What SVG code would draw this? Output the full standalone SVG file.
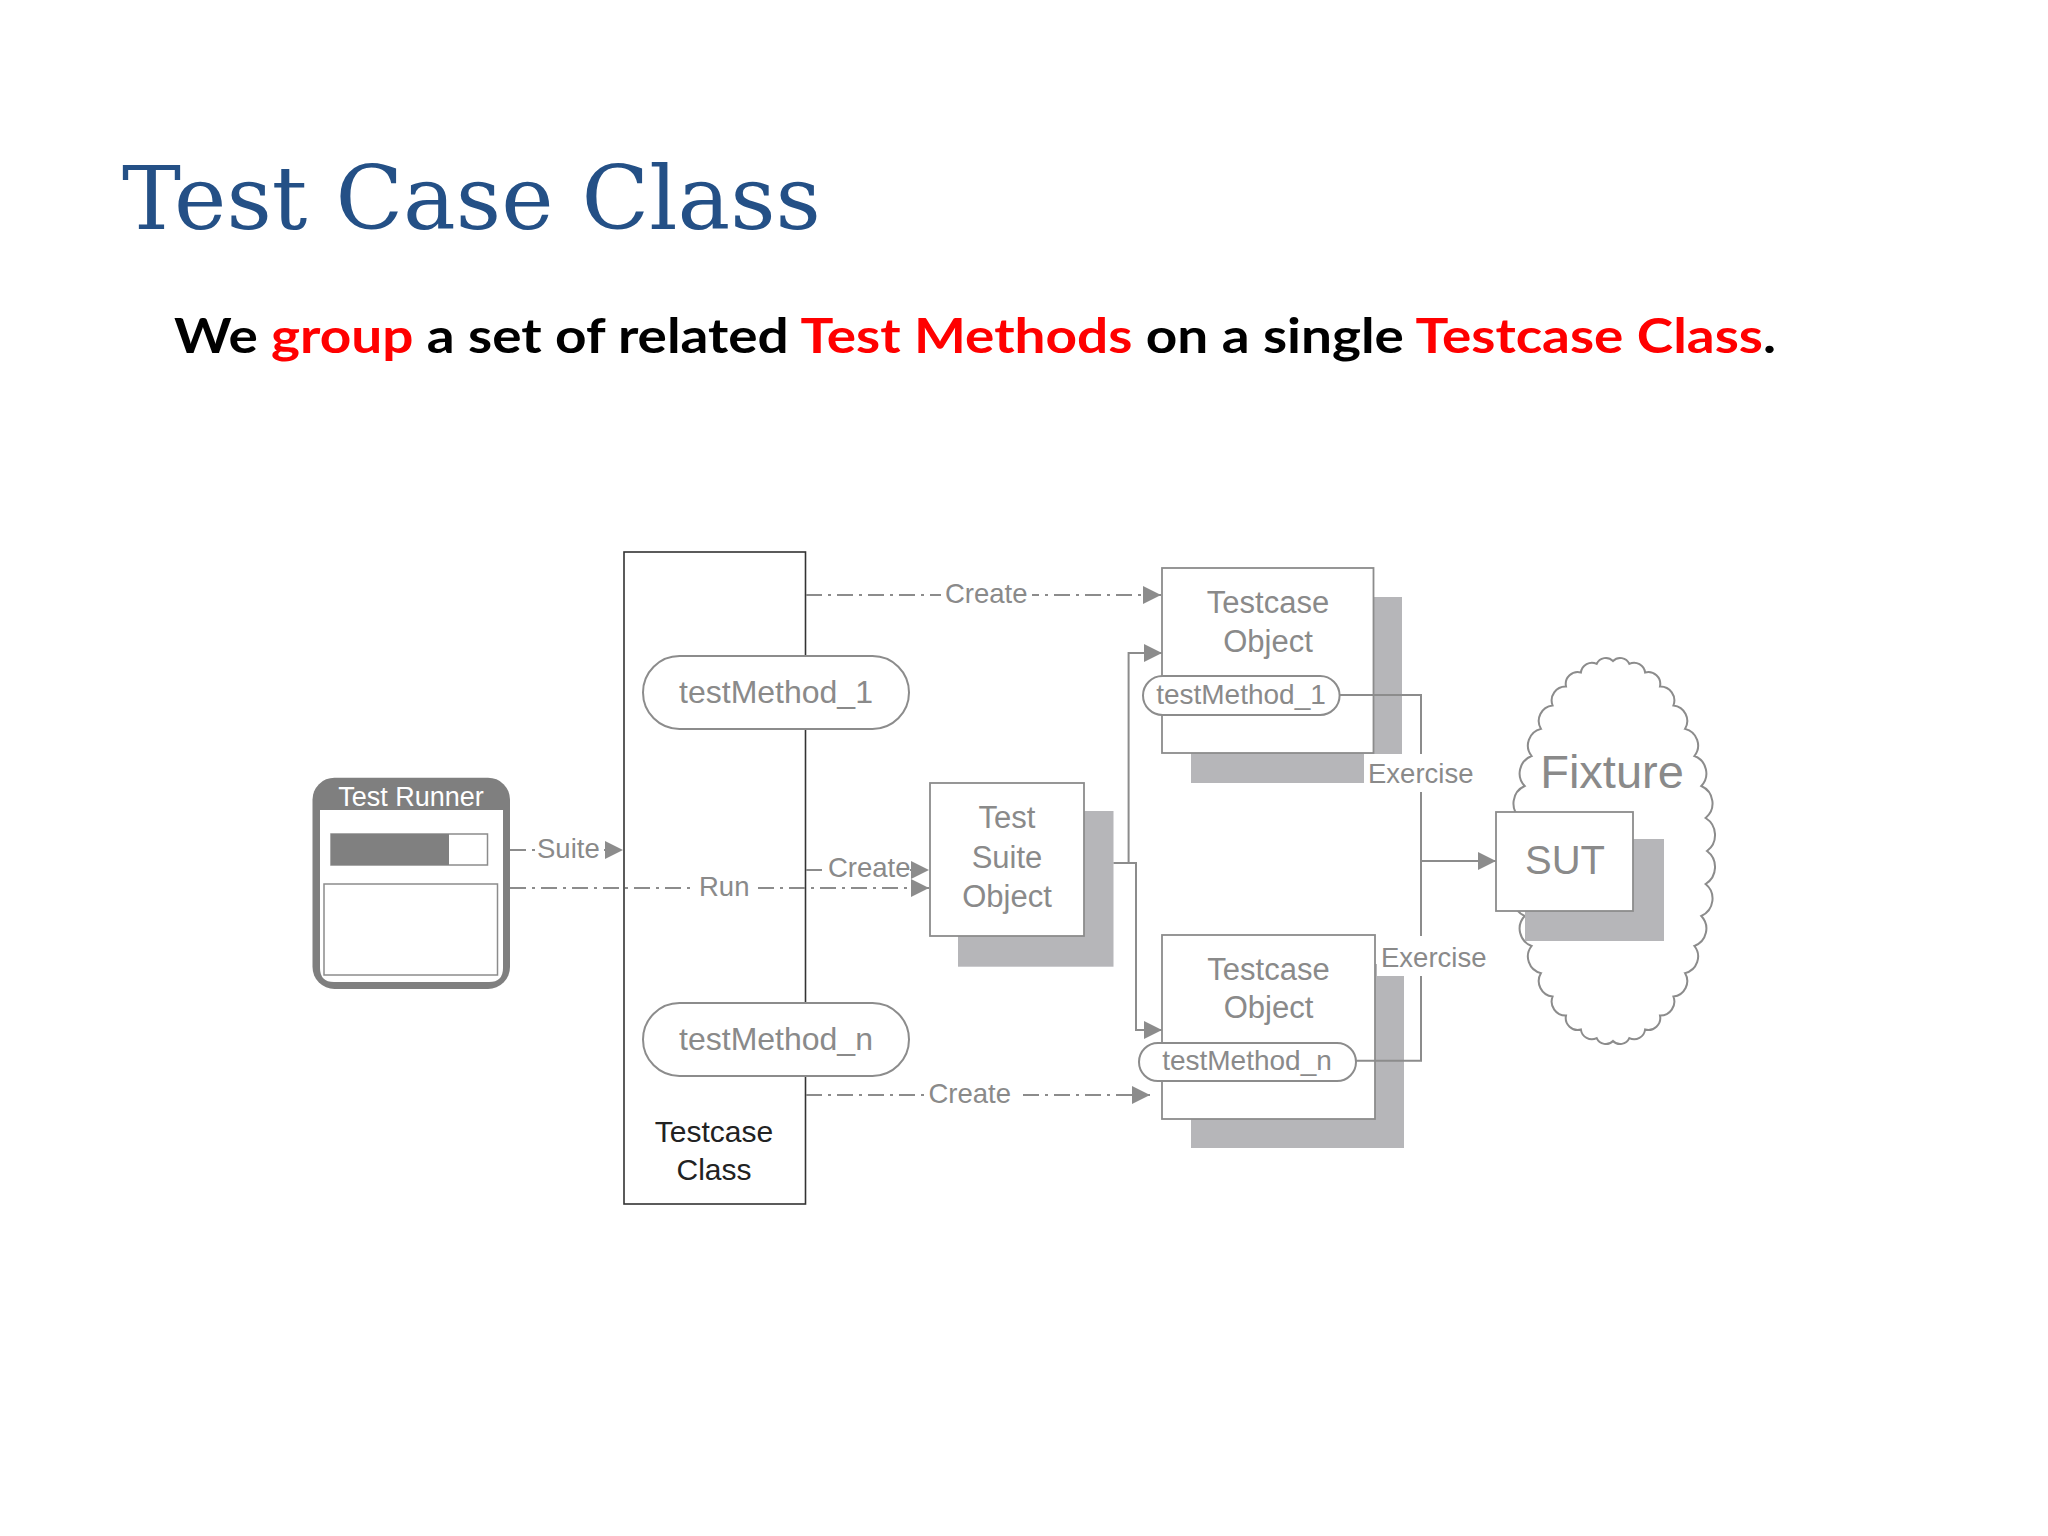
<svg xmlns="http://www.w3.org/2000/svg" width="2048" height="1536" viewBox="0 0 2048 1536">
<style>
.lbl{font-family:"Liberation Sans",Arial,sans-serif;fill:#8a8a8a;font-size:27.5px}
.node{font-family:"Liberation Sans",Arial,sans-serif;fill:#8a8a8a;text-anchor:middle}
.box{fill:#fff;stroke:#8c8c8c;stroke-width:1.8}
.shadow{fill:#b6b6b9}
.pill{fill:#fff;stroke:#8c8c8c;stroke-width:2}
.dash{fill:none;stroke:#8c8c8c;stroke-width:1.8;stroke-dasharray:16 6 3 6}
.solid{fill:none;stroke:#8c8c8c;stroke-width:2}
.bg{fill:#fff}
</style>
<defs>
<marker id="arr" markerUnits="userSpaceOnUse" viewBox="0 0 18 18" refX="18" refY="9" markerWidth="18" markerHeight="18" orient="auto">
<path d="M0,0 L18,9 L0,18 z" fill="#8c8c8c"/>
</marker>
</defs>
<rect width="2048" height="1536" fill="#fff"/>
<text x="122" y="229" font-family="'DejaVu Serif',serif" font-size="88" fill="#245086" textLength="699" lengthAdjust="spacingAndGlyphs">Test Case Class</text>
<text x="174" y="353" font-family="Lato,'Open Sans',sans-serif" font-weight="bold" font-size="48" fill="#000" textLength="1602" lengthAdjust="spacingAndGlyphs">We <tspan fill="#ff0000">group</tspan> a set of related <tspan fill="#ff0000">Test Methods</tspan> on a single <tspan fill="#ff0000">Testcase Class</tspan>.</text>

<g id="fixture">
<path d="M1707,851 A20,20 0 0 1 1705.6,884 A19,19 0 0 1 1701.3,916 A18.5,18.5 0 0 1 1694.4,946 A17,17 0 0 1 1685,973.1 A15.5,15.5 0 0 1 1673.4,996.5 A14,14 0 0 1 1660,1015.5 A12,12 0 0 1 1645.1,1029.5 A11,11 0 0 1 1629.3,1038.1 A10,10 0 0 1 1613,1041 A10,10 0 0 1 1596.7,1038.1 A11,11 0 0 1 1580.9,1029.5 A12,12 0 0 1 1566,1015.5 A14,14 0 0 1 1552.6,996.5 A15.5,15.5 0 0 1 1541,973.1 A17,17 0 0 1 1531.6,946 A18.5,18.5 0 0 1 1524.7,916 A19,19 0 0 1 1520.4,884 A20,20 0 0 1 1519,851 A20,20 0 0 1 1520.4,818 A19,19 0 0 1 1524.7,786 A18.5,18.5 0 0 1 1531.6,756 A17,17 0 0 1 1541,728.9 A15.5,15.5 0 0 1 1552.6,705.5 A14,14 0 0 1 1566,686.5 A12,12 0 0 1 1580.9,672.5 A11,11 0 0 1 1596.7,663.9 A10,10 0 0 1 1613,661 A10,10 0 0 1 1629.3,663.9 A11,11 0 0 1 1645.1,672.5 A12,12 0 0 1 1660,686.5 A14,14 0 0 1 1673.4,705.5 A15.5,15.5 0 0 1 1685,728.9 A17,17 0 0 1 1694.4,756 A18.5,18.5 0 0 1 1701.3,786 A19,19 0 0 1 1705.6,818 A20,20 0 0 1 1707,851 Z" fill="#fff" stroke="#8c8c8c" stroke-width="2"/>
<text class="node" x="1612" y="788" font-size="47">Fixture</text>
</g>

<g id="test-runner">
<rect x="312.5" y="777.7" width="197.5" height="211.3" rx="22" fill="#7f7f7f"/>
<path d="M320,810 H503 V968 Q503,982 489,982 H334 Q320,982 320,968 Z" fill="#fff"/>
<text x="411" y="806" font-family="Liberation Sans,Arial,sans-serif" font-size="27" fill="#fff" text-anchor="middle">Test Runner</text>
<rect x="331" y="834" width="156.5" height="31" fill="#fff" stroke="#8c8c8c" stroke-width="1.5"/>
<rect x="331" y="834" width="118" height="31" fill="#808080"/>
<rect x="324" y="884" width="173.5" height="91" fill="#fff" stroke="#8c8c8c" stroke-width="1.5"/>
</g>

<g id="testcase-class">
<rect x="624" y="552" width="181.5" height="652" fill="#fff" stroke="#333" stroke-width="1.6"/>
<text x="714" y="1142" font-family="Liberation Sans,Arial,sans-serif" font-size="30" fill="#222" text-anchor="middle">Testcase</text>
<text x="714" y="1180" font-family="Liberation Sans,Arial,sans-serif" font-size="30" fill="#222" text-anchor="middle">Class</text>
</g>
<g id="testMethod-1">
<rect class="pill" x="643" y="656" width="266" height="73" rx="36.5"/>
<text class="node" x="776" y="703" font-size="32">testMethod_1</text>
</g>
<g id="testMethod-n">
<rect class="pill" x="643" y="1003" width="266" height="73" rx="36.5"/>
<text class="node" x="776" y="1050" font-size="32">testMethod_n</text>
</g>

<g id="test-suite-object">
<rect class="shadow" x="958" y="811" width="155.5" height="155.7"/>
<rect class="box" x="930" y="783" width="154" height="153"/>
<text class="node" x="1007" y="828" font-size="31">Test</text>
<text class="node" x="1007" y="868" font-size="31">Suite</text>
<text class="node" x="1007" y="907" font-size="31">Object</text>
</g>

<g id="testcase-object-1">
<rect class="shadow" x="1191" y="597" width="211" height="186"/>
<rect class="box" x="1162" y="568" width="211.5" height="185"/>
<text class="node" x="1268" y="613" font-size="31">Testcase</text>
<text class="node" x="1268" y="652" font-size="31">Object</text>
<rect class="pill" x="1143" y="676" width="196.6" height="39" rx="19.5"/>
<text class="node" x="1241" y="704" font-size="28">testMethod_1</text>
</g>

<g id="testcase-object-2">
<rect class="shadow" x="1191" y="964" width="213" height="184"/>
<rect class="box" x="1162" y="935" width="213" height="184"/>
<text class="node" x="1268.5" y="980" font-size="31">Testcase</text>
<text class="node" x="1268.5" y="1018" font-size="31">Object</text>
<rect class="pill" x="1139" y="1043" width="217" height="38" rx="19"/>
<text class="node" x="1247" y="1070" font-size="28">testMethod_n</text>
</g>

<g id="sut">
<rect class="shadow" x="1525" y="839" width="139" height="102"/>
<rect class="box" x="1496" y="812" width="137" height="99"/>
<text class="node" x="1565" y="874" font-size="40">SUT</text>
</g>

<g id="connectors">
<path class="dash" d="M510,850 H623" marker-end="url(#arr)"/>
<path class="dash" d="M510,888 H929" marker-end="url(#arr)"/>
<path class="dash" d="M806,870 H929" marker-end="url(#arr)"/>
<path class="dash" d="M806,595 H1161" marker-end="url(#arr)"/>
<path class="dash" d="M806,1095 H1150" marker-end="url(#arr)"/>
<path class="solid" d="M1113.5,863 H1136 V1030 H1162" marker-end="url(#arr)"/>
<path class="solid" d="M1128.6,863 V653 H1162" marker-end="url(#arr)"/>
<path class="solid" d="M1339.6,695 H1421 V1060.7 H1355.7"/>
<path class="solid" d="M1421,861 H1496" marker-end="url(#arr)"/>
<rect class="bg" x="535" y="834" width="69" height="30"/>
<text class="lbl" x="537" y="858">Suite</text>
<rect class="bg" x="695" y="872" width="59" height="28"/>
<text class="lbl" x="699" y="896">Run</text>
<rect class="bg" x="825" y="853" width="85" height="29"/>
<text class="lbl" x="828" y="877">Create</text>
<rect class="bg" x="941" y="578" width="91" height="30"/>
<text class="lbl" x="945" y="603">Create</text>
<rect class="bg" x="925" y="1080" width="92" height="28"/>
<text class="lbl" x="928.5" y="1103">Create</text>
<rect class="bg" x="1364" y="754" width="114" height="38"/>
<text class="lbl" x="1368" y="783">Exercise</text>
<rect class="bg" x="1377" y="936" width="113" height="40"/>
<text class="lbl" x="1381" y="967">Exercise</text>
</g>
</svg>
